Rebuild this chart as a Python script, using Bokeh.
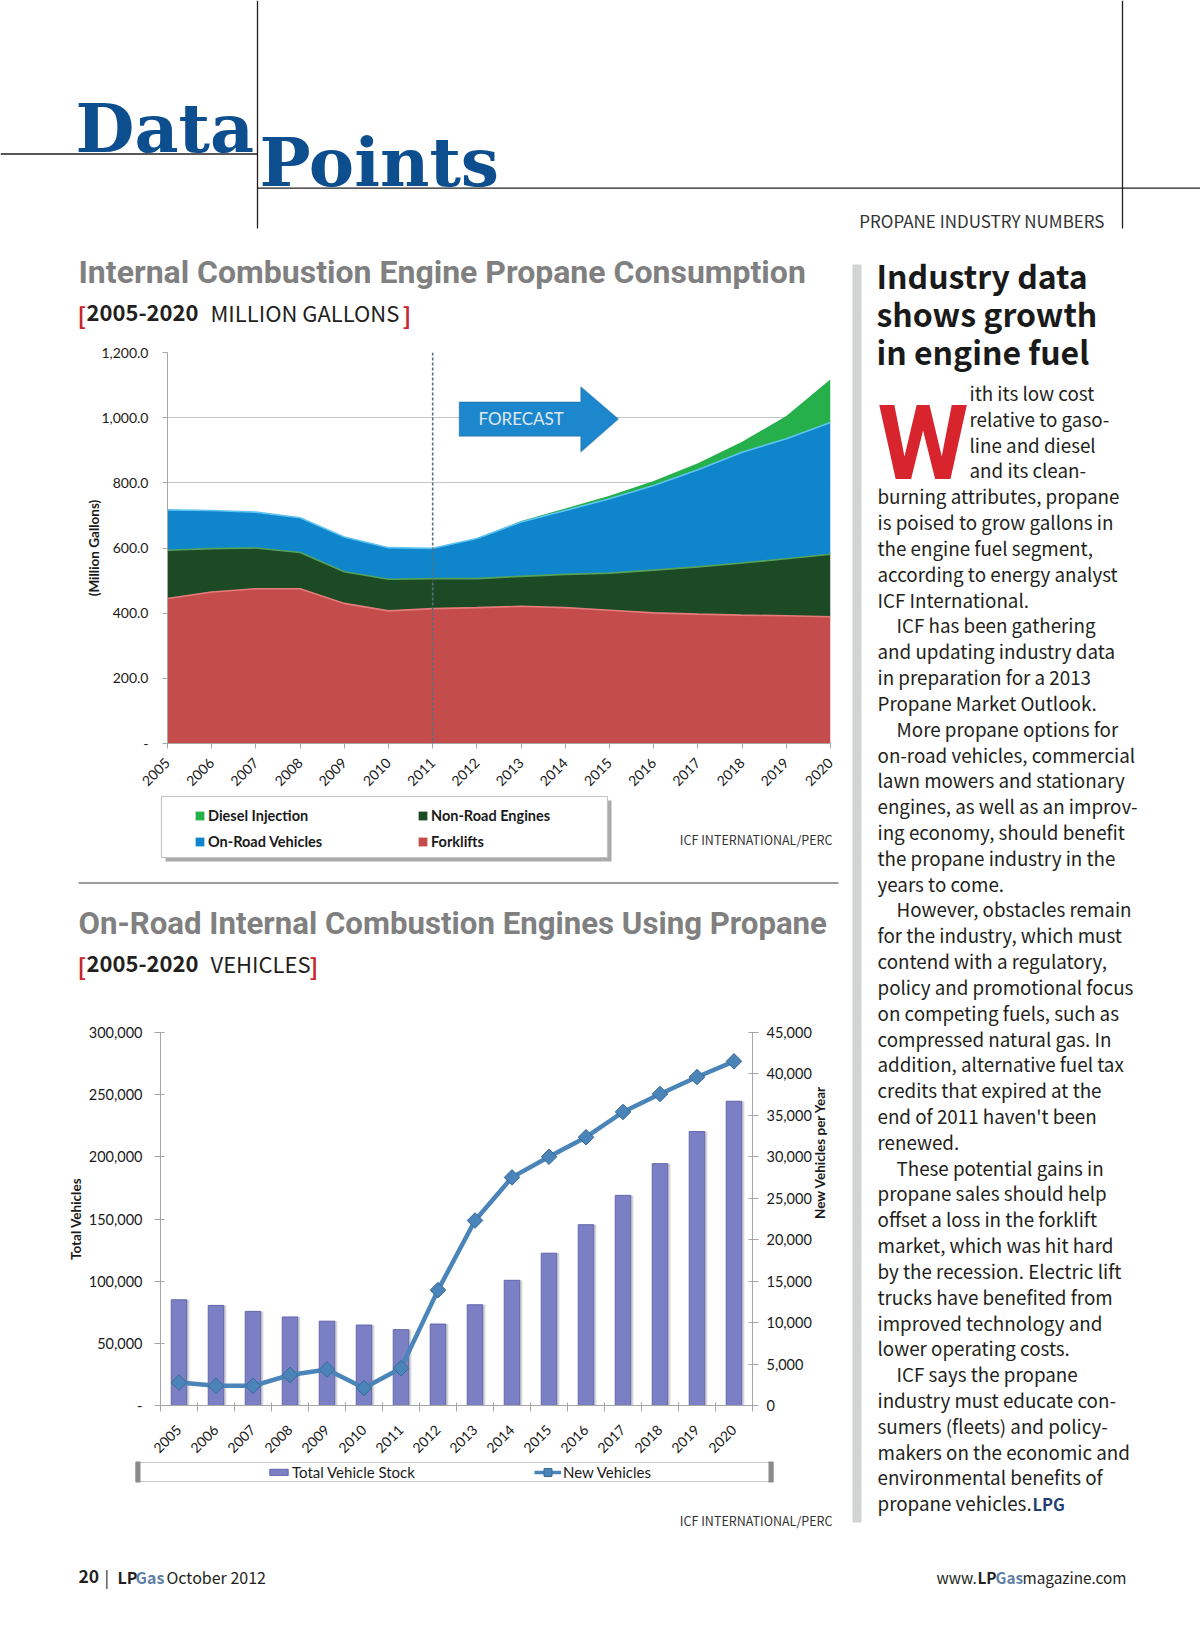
import math
from bokeh.plotting import figure
from bokeh.models import (Range1d, LinearAxis, FixedTicker, Span, Label, Legend,
                          LegendItem, PolyAnnotation, ColumnDataSource, CustomJSTickFormatter)
from bokeh.transform import dodge
from bokeh.layouts import column, row
from bokeh.core.properties import value
from bokeh.embed import file_html
from bokeh.resources import INLINE

# ---------------- data ----------------
years = list(range(2005, 2021))
year_labels = [str(y) for y in years]

# Chart 1: million gallons (stacked)
forklifts = [445, 465, 475, 475, 430, 407, 414, 417, 421, 417, 409, 401, 397, 394, 392, 389]
non_road = [148, 133, 125, 111, 97, 97, 92, 89, 92, 102, 114, 131, 145, 160, 175, 192]
on_road = [124, 117, 110, 107, 107, 97, 93, 123, 167, 196, 228, 260, 298, 340, 368, 404]
diesel = [0, 0, 0, 0, 0, 0, 0, 0, 3, 6, 9, 14, 20, 32, 70, 133]
series_names = ["Forklifts", "Non-Road Engines", "On-Road Vehicles", "Diesel Injection"]
cons_ticks = [0, 200, 400, 600, 800, 1000, 1200]
forecast_year = 2011

# Chart 2: vehicles
total_stock = [85000, 80500, 75700, 71200, 67800, 64700, 61000, 65500, 81000, 100700,
               122500, 145400, 169000, 194500, 220300, 244700]
new_vehicles = [2770, 2370, 2370, 3680, 4350, 2100, 4500, 13920, 22320, 27520,
                30010, 32370, 35410, 37580, 39630, 41520]
stock_ticks = [0, 50000, 100000, 150000, 200000, 250000, 300000]
new_ticks = [0, 5000, 10000, 15000, 20000, 25000, 30000, 35000, 40000, 45000]

body_lines = [
    ("ith its low cost", "cap"), ("relative to gaso-", "cap"), ("line and diesel", "cap"),
    ("and its clean-", "cap"), ("burning attributes, propane", ""),
    ("is poised to grow gallons in", ""), ("the engine fuel segment,", ""),
    ("according to energy analyst", ""), ("ICF International.", ""),
    ("ICF has been gathering", "para"), ("and updating industry data", ""),
    ("in preparation for a 2013", ""), ("Propane Market Outlook.", ""),
    ("More propane options for", "para"), ("on-road vehicles, commercial", ""),
    ("lawn mowers and stationary", ""), ("engines, as well as an improv-", ""),
    ("ing economy, should benefit", ""), ("the propane industry in the", ""),
    ("years to come.", ""), ("However, obstacles remain", "para"),
    ("for the industry, which must", ""), ("contend with a regulatory,", ""),
    ("policy and promotional focus", ""), ("on competing fuels, such as", ""),
    ("compressed natural gas. In", ""), ("addition, alternative fuel tax", ""),
    ("credits that expired at the", ""), ("end of 2011 haven't been", ""),
    ("renewed.", ""), ("These potential gains in", "para"),
    ("propane sales should help", ""), ("offset a loss in the forklift", ""),
    ("market, which was hit hard", ""), ("by the recession. Electric lift", ""),
    ("trucks have benefited from", ""), ("improved technology and", ""),
    ("lower operating costs.", ""), ("ICF says the propane", "para"),
    ("industry must educate con-", ""), ("sumers (fleets) and policy-", ""),
    ("makers on the economic and", ""), ("environmental benefits of", ""),
    ("propane vehicles.", ""),
]

# ---------------- style ----------------
SANS = "Lato"
MYR = "Noto Sans CJK SC"
GROT = "Roboto"
SERIF = "DejaVu Serif"
BASE_K = {MYR: 0.344, SERIF: 0.38, GROT: 0.41, SANS: 0.35}
BLUE_HEAD = "#0d4f8e"
RED = "#c8252c"
INK = "#231f20"
NAN = float("nan")
area_colors = ["#c44d4b", "#1c4a24", "#0f86cc", "#25b04b"]
edge_colors = ["#e67c7a", "#55a35b", "#5fc3f2"]
bar_color = "#7b7fc4"
line_color = "#4a84b8"


def no_align(f):
    try:
        f.frame_align = False
    except Exception:
        pass
    return f


def canvas(w, h, x0, y0):
    f = figure(width=w, height=h, x_range=Range1d(x0, x0 + w), y_range=Range1d(y0 + h, y0),
               x_axis_type=None, y_axis_type=None, output_backend="svg",
               toolbar_location=None, min_border=0)
    f.outline_line_color = None
    f.grid.visible = False
    return no_align(f)


def txt(f, x, y, s, size, color=INK, font=MYR, style="normal", align="left"):
    # y is the intended baseline of the text
    f.text(x=[x], y=[y - BASE_K[font] * size], text=[s], text_font=value(font),
           text_font_size=f"{size}px", text_font_style=style, text_color=color,
           text_align=align, text_baseline="alphabetic")


def seg(f, x0, y0, x1, y1, color="#231f20", width=1.3):
    f.segment(x0=[x0], y0=[y0], x1=[x1], y1=[y1], line_color=color, line_width=width)


# ---------------- header ----------------
header = canvas(1200, 245, 0, 0)
seg(header, 257, 0, 257, 228)
seg(header, 1122, 0, 1122, 228)
seg(header, 0, 153.5, 257, 153.5)
seg(header, 257, 187.7, 1200, 187.7)
txt(header, 75, 153, "Data", 68, BLUE_HEAD, SERIF, "bold")
txt(header, 259, 187, "Points", 68, BLUE_HEAD, SERIF, "bold")
txt(header, 1104, 226, "PROPANE INDUSTRY NUMBERS", 17, "#333333", MYR, align="right")

# ---------------- chart 1 titles ----------------
t1 = canvas(845, 90, 0, 245)
txt(t1, 78, 285, "Internal Combustion Engine Propane Consumption", 32, "#808080", GROT, "bold")
txt(t1, 77, 322, "[", 23, RED, MYR, "bold")
txt(t1, 86, 319.5, "2005-2020", 22, "#231f20", MYR, "bold")
txt(t1, 210, 319.5, "MILLION GALLONS", 22, "#231f20", MYR)
txt(t1, 402, 322, "]", 23, RED, MYR, "bold")

# ---------------- chart 1 ----------------
src1 = ColumnDataSource(dict(year=years, forklifts=forklifts, non_road=non_road,
                             on_road=on_road, diesel=diesel))
stack = ["forklifts", "non_road", "on_road", "diesel"]
p1 = figure(width=845, height=460, x_range=Range1d(2005, 2020), y_range=Range1d(0, 1200),
            output_backend="svg", toolbar_location=None,
            min_border_left=167, min_border_right=15, min_border_top=17, min_border_bottom=52)
no_align(p1)
p1.outline_line_color = None
p1.varea_stack(stackers=stack, x="year", color=area_colors, source=src1)
p1.vline_stack(stackers=stack[:3], x="year", color=edge_colors, line_width=1.6, source=src1)

p1.xgrid.visible = False
p1.ygrid.ticker = FixedTicker(ticks=cons_ticks)
p1.ygrid.grid_line_color = "#c4c4c4"
p1.ygrid.level = "underlay"
p1.yaxis.ticker = FixedTicker(ticks=cons_ticks)
p1.yaxis.formatter = CustomJSTickFormatter(code="""
    if (tick == 0) { return '-'; }
    return tick.toLocaleString('en-US', {minimumFractionDigits: 1, maximumFractionDigits: 1});
""")
p1.xaxis.ticker = FixedTicker(ticks=years)
p1.xaxis.formatter = CustomJSTickFormatter(code="return String(Math.round(tick));")
p1.xaxis.major_label_orientation = math.pi / 4
for ax in (p1.xaxis, p1.yaxis):
    ax.axis_line_color = "#a6a6a6"
    ax.major_tick_line_color = "#a6a6a6"
    ax.major_tick_in = 0
    ax.major_tick_out = 5
    ax.minor_tick_line_color = None
    ax.major_label_text_font = SANS
    ax.major_label_text_color = "#1a1a1a"
p1.yaxis.major_label_text_font_size = "14px"
p1.yaxis.major_label_standoff = 14
p1.xaxis.major_label_text_font_size = "14px"
p1.xaxis.major_label_standoff = 12
p1.yaxis.axis_label = "(Million Gallons)"
p1.yaxis.axis_label_text_font = SANS
p1.yaxis.axis_label_text_font_style = "bold"
p1.yaxis.axis_label_text_font_size = "13.5px"
p1.yaxis.axis_label_text_color = "#1a1a1a"
p1.yaxis.axis_label_standoff = -4

p1.add_layout(Span(location=forecast_year, dimension="height", line_color="#56717e",
                   line_dash="3 2", line_width=1.6))
p1.add_layout(PolyAnnotation(
    xs=[2011.6, 2014.35, 2014.35, 2015.2, 2014.35, 2014.35, 2011.6],
    ys=[1048, 1048, 1095, 996, 895, 943, 943],
    fill_color="#1d87ce", fill_alpha=1.0, line_color="#145a8f", line_width=1.5))
p1.add_layout(Label(x=2013.0, y=996, text="FORECAST", text_align="center",
                    text_baseline="middle", text_color="#dfe8ef", text_font=SANS,
                    text_font_size="17px"))

# ---------------- chart 1 legend + source ----------------
leg1 = canvas(845, 75, 0, 795)
leg1.quad(left=[165], right=[611], top=[800], bottom=[861], fill_color="#8f8f8f",
          fill_alpha=0.75, line_color=None)
leg1.quad(left=[161], right=[607], top=[796], bottom=[857], fill_color="white",
          line_color="#c4c4c4", line_width=1.2)
proxy = {}
for name, c in zip(series_names, area_colors):
    proxy[name] = leg1.quad(left=[NAN], right=[NAN], top=[NAN], bottom=[NAN], fill_color=c,
                            line_color=None)
legend1 = Legend(items=[LegendItem(label=n, renderers=[proxy[n]]) for n in
                        ["Diesel Injection", "Non-Road Engines", "On-Road Vehicles", "Forklifts"]],
                 location=(194, 19), orientation="horizontal", ncols=2,
                 glyph_width=11, glyph_height=11, label_standoff=3, label_width=203,
                 label_height=20, spacing=6, padding=0, margin=0,
                 background_fill_alpha=0, border_line_color=None,
                 label_text_font=SANS, label_text_font_style="bold",
                 label_text_font_size="14.5px", label_text_color="#1a1a1a")
leg1.add_layout(legend1)
txt(leg1, 832, 843, "ICF INTERNATIONAL/PERC", 12.5, "#333333", MYR, align="right")

# ---------------- chart 2 titles ----------------
t2 = canvas(845, 122, 0, 870)
seg(t2, 78, 882.5, 838, 882.5, "#3a3a3a", 1.2)
txt(t2, 78, 936, "On-Road Internal Combustion Engines Using Propane", 31.2, "#808080", GROT, "bold")
txt(t2, 77, 973, "[", 23, RED, MYR, "bold")
txt(t2, 86, 970.5, "2005-2020", 22, "#231f20", MYR, "bold")
txt(t2, 210, 970.5, "VEHICLES", 22, "#231f20", MYR)
txt(t2, 309, 973, "]", 23, RED, MYR, "bold")

# ---------------- chart 2 ----------------
pos = [i + 0.5 for i in range(len(years))]
src2 = ColumnDataSource(dict(pos=pos, total=total_stock, new=new_vehicles))
p2 = figure(width=845, height=468, x_range=Range1d(0, len(years)),
            y_range=Range1d(0, 300000), output_backend="svg", toolbar_location=None,
            min_border_left=160, min_border_right=93, min_border_top=40, min_border_bottom=47)
no_align(p2)
p2.outline_line_color = None
p2.grid.visible = False
p2.extra_y_ranges = {"new": Range1d(0, 45000)}
p2.vbar(x=dodge("pos", 0.07, range=p2.x_range), top="total", width=0.42,
        fill_color="#8a8a8a", fill_alpha=0.35, line_color=None, source=src2)
p2.vbar(x="pos", top="total", width=0.42, fill_color=bar_color, line_color="#6166ab",
        line_width=1, source=src2)
p2.line(x="pos", y="new", y_range_name="new", line_width=4.5, line_color=line_color,
        source=src2)
p2.scatter(x="pos", y="new", y_range_name="new", marker="square", angle=math.pi / 4,
           size=11, fill_color=line_color, line_color="#386a98", source=src2)

ax_r = LinearAxis(y_range_name="new", ticker=FixedTicker(ticks=new_ticks),
                  axis_label="New Vehicles per Year")
ax_r.formatter = CustomJSTickFormatter(code="return tick.toLocaleString('en-US');")
p2.add_layout(ax_r, "right")
p2.yaxis[0].ticker = FixedTicker(ticks=stock_ticks)
p2.yaxis[0].formatter = CustomJSTickFormatter(code="""
    if (tick == 0) { return '-'; }
    return tick.toLocaleString('en-US');
""")
p2.yaxis[0].axis_label = "Total Vehicles"
p2.xaxis.ticker = FixedTicker(ticks=pos, minor_ticks=list(range(len(years) + 1)))
p2.xaxis.formatter = CustomJSTickFormatter(args=dict(labels=year_labels),
                                           code="return labels[Math.floor(tick)];")
p2.xaxis.major_label_orientation = math.pi / 4
p2.xaxis.major_tick_line_color = None
p2.xaxis.minor_tick_line_color = "#a6a6a6"
p2.xaxis.minor_tick_in = 3
p2.xaxis.minor_tick_out = 6
p2.xaxis.major_label_standoff = 16
p2.xaxis.major_label_text_font_size = "14px"
for ax in list(p2.yaxis):
    ax.major_tick_in = 4
    ax.major_tick_out = 6
    ax.minor_tick_line_color = None
    ax.major_tick_line_color = "#a6a6a6"
    ax.major_label_text_font_size = "14.5px"
    ax.axis_label_text_font = SANS
    ax.axis_label_text_font_style = "bold"
    ax.axis_label_text_font_size = "13.5px"
    ax.axis_label_text_color = "#1a1a1a"
p2.yaxis[0].major_label_standoff = 12
p2.yaxis[0].axis_label_standoff = 2
ax_r.major_label_standoff = 8
ax_r.axis_label_standoff = 5
ax_r.axis_label_orientation = math.pi / 2
for ax in list(p2.xaxis) + list(p2.yaxis):
    ax.axis_line_color = "#a6a6a6"
    ax.major_label_text_font = SANS
    ax.major_label_text_color = "#1a1a1a"

# ---------------- chart 2 legend + source ----------------
leg2 = canvas(845, 85, 0, 1460)
leg2.quad(left=[135], right=[773], top=[1462], bottom=[1481], fill_color="white",
          line_color="#c8c8c8", line_width=1)
leg2.quad(left=[135, 768], right=[140, 773], top=[1461, 1461], bottom=[1482, 1482],
          fill_color="#8a8a8a", line_color=None)
r_bar = leg2.quad(left=[NAN], right=[NAN], top=[NAN], bottom=[NAN], fill_color=bar_color,
                  line_color="#6166ab")
r_line = leg2.line(x=[NAN], y=[NAN], line_color=line_color, line_width=3.5)
r_mark = leg2.scatter(x=[NAN], y=[NAN], marker="square", angle=math.pi / 4,
                      fill_color=line_color, line_color="#386a98")
common = dict(orientation="horizontal", label_standoff=2, label_height=20, padding=0,
              margin=0, background_fill_alpha=0, border_line_color=None,
              label_text_font=SANS, label_text_font_size="15px", label_text_color="#1a1a1a")
leg2.add_layout(Legend(items=[LegendItem(label="Total Vehicle Stock", renderers=[r_bar])],
                       location=(267, 63), glyph_width=23, glyph_height=8, **common))
leg2.add_layout(Legend(items=[LegendItem(label="New Vehicles", renderers=[r_line, r_mark])],
                       location=(534, 63), glyph_width=27, glyph_height=20, **common))
txt(leg2, 832, 1524.5, "ICF INTERNATIONAL/PERC", 12.5, "#333333", MYR, align="right")

# ---------------- right column ----------------
side = canvas(355, 1300, 845, 245)
side.quad(left=[852], right=[861], top=[264], bottom=[1522], fill_color="#d1d3d4",
          line_color=None)
for i, line in enumerate(["Industry data", "shows growth", "in engine fuel"]):
    txt(side, 876, 286 + i * 38, line, 32, "#1a1a1a", MYR, "bold")
txt(side, 877, 486, "W", 104, "#d7242d", GROT, "bold")
BODY_SIZE = 18.8
xs, ys, ts = [], [], []
for k, (line, kind) in enumerate(body_lines):
    xs.append({"cap": 969, "para": 896}.get(kind, 877))
    ys.append(398.5 + 25.82 * k - BASE_K[MYR] * BODY_SIZE)
    ts.append(line)
side.text(x=xs, y=ys, text=ts, text_font=value(MYR), text_font_size=f"{BODY_SIZE}px",
          text_color=INK, text_baseline="alphabetic")
txt(side, 1032, 398.5 + 25.82 * (len(body_lines) - 1), "LPG", 16.5, "#1f3f73", MYR, "bold")

# ---------------- footer ----------------
foot = canvas(1200, 80, 0, 1545)
txt(foot, 78, 1582, "20", 17.5, INK, MYR, "bold")
txt(foot, 104, 1582, "|", 17, INK, MYR)
txt(foot, 117, 1582, "LP", 16, INK, MYR, "bold")
txt(foot, 135, 1582, "Gas", 16, "#5f7fa6", MYR, "bold")
txt(foot, 166, 1582, "October 2012", 16, INK, MYR)
txt(foot, 936, 1582, "www.", 15.3, INK, MYR)
txt(foot, 977, 1582, "LP", 15.3, INK, MYR, "bold")
txt(foot, 995, 1582, "Gas", 15.3, "#5f7fa6", MYR, "bold")
txt(foot, 1022, 1582, "magazine.com", 15.3, INK, MYR)

left_col = column(t1, p1, leg1, t2, p2, leg2, spacing=0)
page = column(header, row(left_col, side, spacing=0), foot, spacing=0)

open("out.html", "w").write(file_html(page, INLINE))
